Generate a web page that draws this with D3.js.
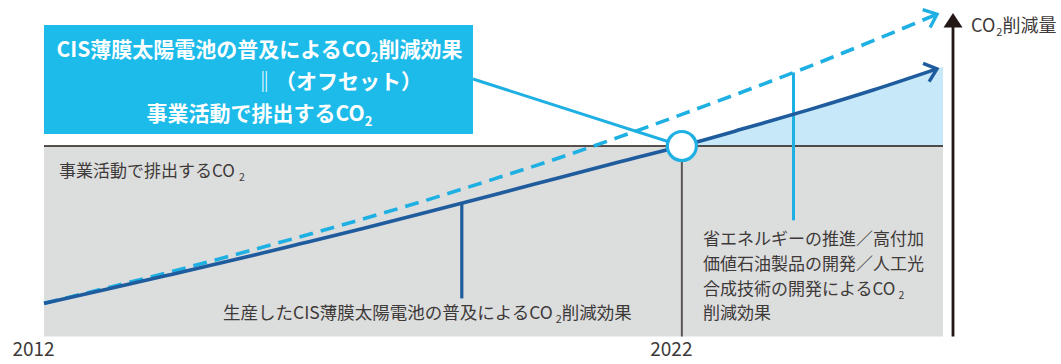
<!DOCTYPE html>
<html>
<head>
<meta charset="utf-8">
<script src="https://cdn.jsdelivr.net/npm/d3@7"></script>
<style>
  html, body { margin: 0; padding: 0; background: #ffffff; }
  svg { display: block; }
  text { font-family: "Noto Sans CJK JP", "Noto Sans", sans-serif; }
</style>
</head>
<body>
<svg id="chart" width="1061" height="364"></svg>
<script>
// Years along the horizontal axis
const years = [2012, 2013, 2014, 2015, 2016, 2017, 2018, 2019, 2020, 2021, 2022, 2023, 2024, 2025, 2026];
// CO2 reduction from CIS thin-film solar cells produced (index, business emissions = 100)
const cisReduction = [17.4, 24.9, 32.6, 40.4, 48.5, 56.7, 65.2, 73.9, 82.7, 91.5, 100, 109.4, 119.1, 129.4, 140.5];
// Total reduction incl. energy saving, high value-added oil products, artificial photosynthesis
const totalReduction = [17.4, 25.6, 34.1, 43.0, 52.2, 61.7, 71.6, 82.1, 92.9, 104.5, 116.6, 129.0, 141.8, 155.3, 169.2];
// CO2 emitted by business activities
const businessEmission = 100;
// Offset year (break-even point)
const offsetYear = 2022;
const tickYears = [2012, 2022];

const C = {
  dark: "#1f5c9d",
  light: "#1fb0e3",
  box: "#1dbbea",
  fill: "#c6e8f8",
  gray: "#dcdddd",
  text: "#3e3a39",
  axis: "#231815"
};

const svg = d3.select("#chart");
const plotLeft = 44, plotRight = 943, plotBottom = 336.5;

const x = d3.scaleLinear().domain([2012, 2026]).range([plotLeft, 937]);
const y = d3.scaleLinear().domain([0, businessEmission]).range([plotBottom, 146]);

const solidPts = years.map((yr, i) => [x(yr), y(cisReduction[i])]);
const dashPts = years.map((yr, i) => [x(yr), y(totalReduction[i])]);

// value on a series at a fractional year (linear between samples)
function valueAt(series, yr) {
  const i = Math.min(years.length - 2, Math.max(0, Math.floor(yr - years[0])));
  const t = (yr - years[i]) / (years[i + 1] - years[i]);
  return series[i] + (series[i + 1] - series[i]) * t;
}

// text with subscript parts
function richText(g, px, py, parts, opts) {
  const t = g.append("text")
    .attr("x", px).attr("y", py)
    .attr("fill", opts.fill)
    .attr("font-size", opts.size)
    .attr("font-weight", opts.weight || 400)
    .attr("text-anchor", opts.anchor || "start");
  parts.forEach(p => {
    if (typeof p === "string") {
      t.append("tspan").text(p);
    } else {
      t.append("tspan").attr("font-size", opts.size * 0.62).attr("dy", opts.size * 0.22)
        .attr("dx", p.dx || 0).text(p.sub);
      t.append("tspan").attr("dy", -opts.size * 0.22).text(p.after || "");
    }
  });
  return t;
}

// grey zone: CO2 emitted by business activities
svg.append("rect")
  .attr("x", plotLeft).attr("y", y(businessEmission))
  .attr("width", plotRight - plotLeft).attr("height", plotBottom - y(businessEmission))
  .attr("fill", C.gray);

// light-blue zone: reduction beyond the offset point
const fillPts = solidPts.filter((p, i) => years[i] >= offsetYear);
{
  const a = fillPts[fillPts.length - 2], b = fillPts[fillPts.length - 1];
  const slope = (b[1] - a[1]) / (b[0] - a[0]);
  fillPts.push([plotRight, b[1] + slope * (plotRight - b[0])]);
}
svg.append("path")
  .attr("d", d3.area().x(d => d[0]).y0(y(businessEmission)).y1(d => d[1]).curve(d3.curveMonotoneX)(fillPts))
  .attr("fill", C.fill);

// emissions level line
svg.append("line")
  .attr("x1", plotLeft).attr("x2", plotRight)
  .attr("y1", y(businessEmission)).attr("y2", y(businessEmission))
  .attr("stroke", "#231815").attr("stroke-width", 1.4);

// 2022 marker line
svg.append("line")
  .attr("x1", x(offsetYear)).attr("x2", x(offsetYear))
  .attr("y1", y(businessEmission)).attr("y2", plotBottom)
  .attr("stroke", "#595757").attr("stroke-width", 2);

// leader lines for the annotations
const cisLeader = { year: 2018.55, bottom: 20 };
const totalLeader = { year: 2023.75, bottom: 61 };
svg.append("line")
  .attr("x1", x(cisLeader.year)).attr("x2", x(cisLeader.year))
  .attr("y1", y(valueAt(cisReduction, cisLeader.year))).attr("y2", y(cisLeader.bottom))
  .attr("stroke", C.dark).attr("stroke-width", 3.2);
svg.append("line")
  .attr("x1", x(totalLeader.year)).attr("x2", x(totalLeader.year))
  .attr("y1", y(valueAt(totalReduction, totalLeader.year))).attr("y2", y(totalLeader.bottom))
  .attr("stroke", C.light).attr("stroke-width", 3);

const line = d3.line().curve(d3.curveMonotoneX);

function chevron(pts, color) {
  const b = pts[pts.length - 1], a = pts[pts.length - 2];
  const th = Math.atan2(b[1] - a[1], b[0] - a[0]);
  const L = 15, ang = 40 * Math.PI / 180;
  const p1 = [b[0] - L * Math.cos(th - ang), b[1] - L * Math.sin(th - ang)];
  const p2 = [b[0] - L * Math.cos(th + ang), b[1] - L * Math.sin(th + ang)];
  svg.append("path")
    .attr("d", d3.line()([p1, b, p2]))
    .attr("fill", "none").attr("stroke", color).attr("stroke-width", 3.4)
    .attr("stroke-linejoin", "miter").attr("stroke-linecap", "butt");
}

// total reduction (dashed)
svg.append("path")
  .attr("d", line(dashPts))
  .attr("fill", "none").attr("stroke", C.light).attr("stroke-width", 3.6)
  .attr("stroke-dasharray", "14,8");
chevron(dashPts, C.light);

// CIS reduction (solid)
svg.append("path")
  .attr("d", line(solidPts))
  .attr("fill", "none").attr("stroke", C.dark).attr("stroke-width", 3.6);
chevron(solidPts, C.dark);

// callout box
const box = { x: 44, y: 25, w: 429, h: 109 };
svg.append("line")
  .attr("x1", box.x + box.w).attr("y1", 79)
  .attr("x2", x(offsetYear)).attr("y2", y(businessEmission))
  .attr("stroke", C.light).attr("stroke-width", 3);
svg.append("rect")
  .attr("x", box.x).attr("y", box.y).attr("width", box.w).attr("height", box.h)
  .attr("fill", C.box);
const boxText = svg.append("g");
richText(boxText, box.x + box.w / 2 + 1, 57, ["CIS薄膜太陽電池の普及によるCO", { sub: "2", after: "削減効果" }],
  { fill: "#fff", size: 21, weight: 700, anchor: "middle" });
richText(boxText, 254, 89, ["‖（オフセット）"], { fill: "#fff", size: 21, weight: 700 });
richText(boxText, box.x + box.w / 2 + 1, 121, ["事業活動で排出するCO", { sub: "2" }],
  { fill: "#fff", size: 21, weight: 700, anchor: "middle" });

// offset point
svg.append("circle")
  .attr("cx", x(offsetYear)).attr("cy", y(businessEmission)).attr("r", 14.5)
  .attr("fill", "#fff").attr("stroke", C.light).attr("stroke-width", 3.2);

// labels inside the chart
richText(svg, 59, 177, ["事業活動で排出するCO", { sub: "2", dx: 4 }], { fill: C.text, size: 17 });
richText(svg, 223, 319, ["生産したCIS薄膜太陽電池の普及によるCO", { sub: "2", dx: 3, after: "削減効果" }], { fill: C.text, size: 17.5 });
richText(svg, 703, 245, ["省エネルギーの推進／高付加"], { fill: C.text, size: 17 });
richText(svg, 703, 270, ["価値石油製品の開発／人工光"], { fill: C.text, size: 17 });
richText(svg, 703, 295, ["合成技術の開発によるCO", { sub: "2", dx: 3 }], { fill: C.text, size: 17 });
richText(svg, 703, 319, ["削減効果"], { fill: C.text, size: 17 });

// vertical axis with arrow head
const axX = 953;
svg.append("line")
  .attr("x1", axX).attr("x2", axX).attr("y1", plotBottom).attr("y2", 26)
  .attr("stroke", C.axis).attr("stroke-width", 2.8);
svg.append("path")
  .attr("d", d3.line()([[axX - 9.5, 27.5], [axX, 13], [axX + 9.5, 27.5]]) + "Z")
  .attr("fill", C.axis);
richText(svg, 971, 32, ["CO", { sub: "2", dx: 1, after: "削減量" }], { fill: C.text, size: 18 });

// horizontal axis labels
const xAxis = d3.axisBottom(x).tickValues(tickYears).tickFormat(d3.format("d")).tickSize(0);
const gx = svg.append("g").attr("transform", `translate(0,${plotBottom})`).call(xAxis);
gx.select(".domain").remove();
gx.selectAll("text")
  .attr("y", 19.5).attr("dy", 0).attr("dx", -11)
  .attr("font-family", "'Open Sans', sans-serif")
  .attr("font-size", 19).attr("fill", C.text);
</script>
</body>
</html>
